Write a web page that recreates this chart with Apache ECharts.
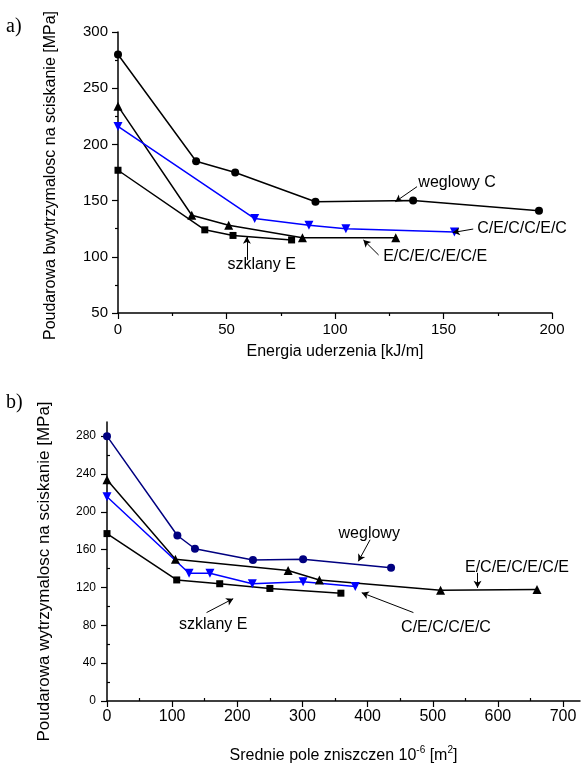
<!DOCTYPE html>
<html>
<head>
<meta charset="utf-8">
<script src="https://cdn.jsdelivr.net/npm/echarts@6/dist/echarts.min.js"></script>
<style>
  html, body { margin: 0; padding: 0; background: #fff; }
  #main { width: 583px; height: 765px; }
</style>
</head>
<body>
<div id="main"></div>
<script>
// a) wytrzymalosc w funkcji energii uderzenia
var energiaWeglowyX = [0, 36, 54, 91, 136, 194]
var energiaWeglowyY = [280, 185, 175, 149, 150, 141]
var energiaEceX = [0, 34, 51, 85, 128]
var energiaEceY = [234, 137, 128, 117, 117]
var energiaCecX = [0, 63, 88, 105, 155]
var energiaCecY = [216, 134, 128, 125, 122]
var energiaSzklanyX = [0, 40, 53, 80]
var energiaSzklanyY = [177, 124, 119, 115]

// b) wytrzymalosc w funkcji pola zniszczen
var poleWeglowyX = [0, 108, 135, 224, 301, 436]
var poleWeglowyY = [280, 175, 161, 149, 150, 141]
var poleEceX = [0, 105, 278, 326, 512, 660]
var poleEceY = [234, 150, 138, 128, 117, 118]
var poleCecX = [0, 126, 158, 223, 301, 381]
var poleCecY = [216, 135, 135, 124, 126, 121]
var poleSzklanyX = [0, 107, 173, 250, 359]
var poleSzklanyY = [177, 128, 124, 119, 114]

// podpisy serii i strzalki (wspolrzedne w jednostkach osi)
var notesA = [
  { text: 'weglowy C', x: 138.4, y: 165.7, pos: 'right' },
  { text: 'C/E/C/C/E/C', x: 165.5, y: 124.7, pos: 'right' },
  { text: 'E/C/E/C/E/C/E', x: 122.2, y: 100.1, pos: 'right' },
  { text: 'szklany E', x: 66.2, y: 92.7, pos: 'inside' }
]
var arrowsA = [
  [137.8, 162.4, 127.8, 149],
  [163.7, 124.7, 154.3, 121.6],
  [120.1, 101.6, 113.1, 115],
  [59.4, 97.2, 59.4, 117.9]
]
var notesB = [
  { text: 'szklany E', x: 163, y: 81.2, pos: 'inside' },
  { text: 'weglowy', x: 402.5, y: 177.5, pos: 'inside' },
  { text: 'E/C/E/C/E/C/E', x: 629.3, y: 140.8, pos: 'inside' },
  { text: 'C/E/C/C/E/C', x: 520.3, y: 77.7, pos: 'inside' }
]
var arrowsB = [
  [152.8, 93.5, 193.7, 108.2],
  [403.8, 170.5, 385.8, 147.7],
  [568.7, 135.5, 568.7, 119.7],
  [470.3, 93.5, 391, 114.5]
]

var poleXMajor = [0, 100, 200, 300, 400, 500, 600, 700]
var poleXMinor = [50, 150, 250, 350, 450, 550, 650]
var poleYMajor = [0, 40, 80, 120, 160, 200, 240, 280]
var poleYMinor = [20, 60, 100, 140, 180, 220, 260]

var font = "'Liberation Sans', Arial, sans-serif"

function pairs(xs, ys) {
  return xs.map(function(x, i) { return [x, ys[i]] })
}

function lineSeries(name, xs, ys, symbol, color, axis, rotate) {
  return {
    name: name,
    type: 'line',
    xAxisIndex: axis,
    yAxisIndex: axis,
    data: pairs(xs, ys),
    symbol: symbol,
    symbolSize: symbol === 'rect' ? 7 : symbol === 'circle' ? 8 : 9,
    symbolRotate: rotate || 0,
    showAllSymbol: true,
    animation: false,
    lineStyle: { color: color, width: 1.5 },
    itemStyle: { color: color, borderWidth: 0 }
  }
}

function notesAndArrows(notes, arrows, size) {
  return {
    markPoint: {
      symbol: 'circle',
      symbolSize: 0,
      animation: false,
      label: { show: true, color: '#000', fontFamily: font, fontSize: size, distance: 0 },
      data: notes.map(function(n) {
        return {
          coord: [n.x, n.y],
          label: { position: n.pos, formatter: n.text }
        }
      })
    },
    markLine: {
      silent: true,
      animation: false,
      symbol: ['none', 'arrow'],
      symbolSize: [6, 7],
      label: { show: false },
      lineStyle: { color: '#000', width: 1, type: 'solid' },
      data: arrows.map(function(a) {
        return [{ coord: [a[0], a[1]] }, { coord: [a[2], a[3]] }]
      })
    }
  }
}

var axisLine = { show: true, onZero: false, lineStyle: { color: '#000', width: 1.5 } }

var myChart = echarts.init(document.getElementById('main'))

var seriesA1 = lineSeries('weglowy C', energiaWeglowyX, energiaWeglowyY, 'circle', '#000', 0)
Object.assign(seriesA1, notesAndArrows(notesA, arrowsA, 16))
var seriesB1 = lineSeries('weglowy', poleWeglowyX, poleWeglowyY, 'circle', '#000080', 1)
Object.assign(seriesB1, notesAndArrows(notesB, arrowsB, 16))

var option = {
  backgroundColor: '#fff',
  animation: false,
  textStyle: { fontFamily: font },
  graphic: [
    { type: 'text', left: 6, top: 17, style: { text: 'a)', font: '20px "Liberation Serif", serif', fill: '#000' } },
    { type: 'text', left: 6, top: 393, style: { text: 'b)', font: '20px "Liberation Serif", serif', fill: '#000' } }
  ],
  grid: [
    { left: 118, top: 32, width: 434, height: 281 },
    { left: 107, top: 422, width: 473, height: 280 }
  ],
  xAxis: [
    {
      type: 'value', gridIndex: 0, min: 0, max: 200, interval: 50,
      name: 'Energia uderzenia [kJ/m]', nameLocation: 'middle', nameGap: 31,
      nameTextStyle: { fontSize: 16, color: '#000', fontFamily: font },
      axisLine: axisLine,
      axisTick: { show: true, length: 6, lineStyle: { color: '#000', width: 1.2 } },
      minorTick: { show: true, splitNumber: 2, length: 3, lineStyle: { color: '#000', width: 1.2 } },
      axisLabel: { fontSize: 15, color: '#000', margin: 9, fontFamily: font },
      splitLine: { show: false }
    },
    {
      type: 'value', gridIndex: 1, min: 0, max: 726, interval: 100,
      name: 'Srednie pole zniszczen 10{sup|-6} [m{sup|2}]', nameLocation: 'middle', nameGap: 44,
      nameTextStyle: {
        fontSize: 16, color: '#000', fontFamily: font,
        rich: { sup: { fontSize: 10, verticalAlign: 'top', lineHeight: 22, color: '#000', fontFamily: font } }
      },
      axisLine: axisLine,
      axisTick: { show: true, length: 6, customValues: poleXMajor, lineStyle: { color: '#000', width: 1.2 } },
      axisLabel: { fontSize: 16, color: '#000', margin: 8, customValues: poleXMajor, fontFamily: font },
      splitLine: { show: false }
    },
    {
      // drobne podzialki osi b)
      type: 'value', gridIndex: 1, min: 0, max: 726,
      axisLine: { show: false },
      axisTick: { show: true, length: 3, customValues: poleXMinor, lineStyle: { color: '#000', width: 1.2 } },
      axisLabel: { show: false },
      splitLine: { show: false }
    }
  ],
  yAxis: [
    {
      type: 'value', gridIndex: 0, min: 50, max: 300, interval: 50,
      name: 'Poudarowa bwytrzymalosc na sciskanie [MPa]', nameLocation: 'middle', nameGap: 59,
      nameTextStyle: { fontSize: 16, color: '#000', fontFamily: font, padding: [0, 6, 0, 0] },
      axisLine: axisLine,
      axisTick: { show: true, length: 6, lineStyle: { color: '#000', width: 1.2 } },
      minorTick: { show: true, splitNumber: 2, length: 3, lineStyle: { color: '#000', width: 1.2 } },
      axisLabel: { fontSize: 15, color: '#000', margin: 10, fontFamily: font },
      splitLine: { show: false }
    },
    {
      type: 'value', gridIndex: 1, min: 0, max: 295, interval: 40,
      name: 'Poudarowa wytrzymalosc na sciskanie [MPa]', nameLocation: 'middle', nameGap: 54,
      nameTextStyle: { fontSize: 17, color: '#000', fontFamily: font, padding: [0, 20, 0, 0] },
      axisLine: axisLine,
      axisTick: { show: true, length: 6, customValues: poleYMajor, lineStyle: { color: '#000', width: 1.2 } },
      axisLabel: { fontSize: 12, color: '#000', margin: 11, customValues: poleYMajor, fontFamily: font },
      splitLine: { show: false }
    },
    {
      type: 'value', gridIndex: 1, min: 0, max: 295,
      axisLine: { show: false },
      axisTick: { show: true, length: 3, customValues: poleYMinor, lineStyle: { color: '#000', width: 1.2 } },
      axisLabel: { show: false },
      splitLine: { show: false }
    }
  ],
  series: [
    seriesA1,
    lineSeries('E/C/E/C/E/C/E', energiaEceX, energiaEceY, 'triangle', '#000', 0),
    lineSeries('C/E/C/C/E/C', energiaCecX, energiaCecY, 'triangle', '#0000ff', 0, 180),
    lineSeries('szklany E', energiaSzklanyX, energiaSzklanyY, 'rect', '#000', 0),
    seriesB1,
    lineSeries('E/C/E/C/E/C/E', poleEceX, poleEceY, 'triangle', '#000', 1),
    lineSeries('C/E/C/C/E/C', poleCecX, poleCecY, 'triangle', '#0000ff', 1, 180),
    lineSeries('szklany E', poleSzklanyX, poleSzklanyY, 'rect', '#000', 1)
  ]
}

myChart.setOption(option)
</script>
</body>
</html>
